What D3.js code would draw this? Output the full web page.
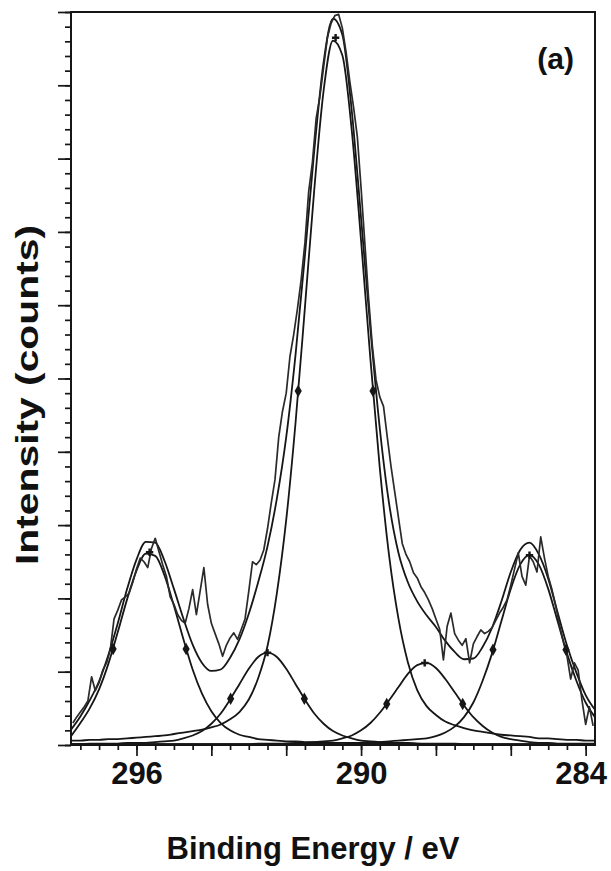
<!DOCTYPE html>
<html>
<head>
<meta charset="utf-8">
<script src="https://cdn.jsdelivr.net/npm/d3@7"></script>
<style>
  body { margin: 0; background: #fff; }
  svg { display: block; }
  text { font-family: "Liberation Sans", Arial, sans-serif; font-weight: bold; fill: #111; }
</style>
</head>
<body>
<div id="chart"></div>
<script>

// ---------------- data ----------------

// measured spectrum, 0.1 eV steps from 297.7 down to 283.8 eV
const rawStart = 297.7, rawStep = -0.1;
const rawCounts = [
  0.30, 0.38, 0.45, 0.52, 0.60, 0.93, 0.74, 0.85, 1.02, 1.12,
  1.30, 1.72, 1.84, 1.98, 2.02, 2.07, 2.22, 2.40, 2.55, 2.50,
  2.42, 2.68, 2.82, 2.64, 2.46, 2.30, 2.02, 1.92, 1.78, 1.70,
  1.66, 1.86, 2.12, 1.78, 2.10, 2.42, 1.92, 1.66, 1.52, 1.38,
  1.21, 1.36, 1.46, 1.53, 1.44, 1.58, 1.72, 2.10, 2.50, 2.46,
  2.52, 2.66, 2.95, 3.30, 3.62, 4.20, 4.55, 4.80, 5.30, 5.60,
  5.95, 6.35, 6.85, 7.55, 7.95, 8.55, 8.85, 9.25, 9.65, 9.85,
  9.95, 9.97, 9.78, 9.45, 9.05, 8.70, 8.30, 7.60, 6.85, 6.10,
  5.45, 4.98, 4.75, 4.62, 4.20, 3.80, 3.45, 3.10, 2.75, 2.60,
  2.50, 2.35, 2.28, 2.16, 2.08, 1.98, 1.86, 1.72, 1.58, 1.16,
  1.62, 1.80, 1.52, 1.43, 1.36, 1.45, 1.12, 1.38, 1.48, 1.57,
  1.52, 1.55, 1.60, 1.70, 1.80, 1.88, 1.98, 2.18, 2.40, 2.62,
  2.30, 2.18, 2.58, 2.50, 2.36, 2.84, 2.55, 2.30, 2.12, 1.90,
  1.64, 1.42, 1.22, 0.90, 1.12, 1.02, 0.62, 0.28, 0.52, 0.26
];

// fitted curves, 0.25 eV steps from 297.75 down to 283.75 eV
const fitStart = 297.75, fitStep = -0.25;
const peakA = [
  0.12, 0.30, 0.50, 0.76, 1.11, 1.54, 1.99, 2.38,
  2.61, 2.58, 2.31, 1.90, 1.45, 1.03, 0.70, 0.46,
  0.30, 0.20, 0.14, 0.11, 0.08, 0.07, 0.06, 0.05,
  0.05, 0.04, 0.04, 0.03, 0.03, 0.03, 0.02, 0.02,
  0.02, 0.02, 0.02, 0.02, 0.02, 0.02, 0.01, 0.01,
  0.01, 0.01, 0.01, 0.01, 0.01, 0.01, 0.01, 0.01,
  0.01, 0.01, 0.01, 0.01, 0.01, 0.01, 0.01, 0.01,
  0.01
];
const peakB = [
  0.01, 0.01, 0.02, 0.02, 0.02, 0.02, 0.03, 0.03,
  0.03, 0.04, 0.05, 0.06, 0.09, 0.13, 0.19, 0.29,
  0.43, 0.62, 0.83, 1.04, 1.20, 1.26, 1.20, 1.04,
  0.83, 0.62, 0.43, 0.29, 0.19, 0.13, 0.09, 0.06,
  0.05, 0.04, 0.03, 0.03, 0.03, 0.02, 0.02, 0.02,
  0.02, 0.02, 0.01, 0.01, 0.01, 0.01, 0.01, 0.01,
  0.01, 0.01, 0.01, 0.01, 0.01, 0.01, 0.01, 0.01,
  0.01
];
const peakMain = [
  0.06, 0.06, 0.07, 0.07, 0.08, 0.08, 0.09, 0.10,
  0.11, 0.12, 0.13, 0.15, 0.17, 0.19, 0.21, 0.24,
  0.28, 0.35, 0.45, 0.62, 0.91, 1.35, 2.07, 3.07,
  4.40, 5.97, 7.58, 8.93, 9.61, 9.41, 8.39, 6.88,
  5.26, 3.78, 2.58, 1.72, 1.13, 0.75, 0.53, 0.41,
  0.32, 0.27, 0.23, 0.20, 0.18, 0.16, 0.14, 0.13,
  0.12, 0.11, 0.09, 0.09, 0.08, 0.07, 0.07, 0.06,
  0.06
];
const peakD = [
  0.01, 0.01, 0.01, 0.01, 0.01, 0.01, 0.01, 0.01,
  0.01, 0.01, 0.01, 0.01, 0.01, 0.01, 0.01, 0.01,
  0.01, 0.01, 0.01, 0.01, 0.02, 0.02, 0.02, 0.02,
  0.03, 0.03, 0.04, 0.05, 0.06, 0.09, 0.13, 0.20,
  0.30, 0.44, 0.61, 0.79, 0.97, 1.09, 1.12, 1.05,
  0.90, 0.72, 0.54, 0.38, 0.26, 0.17, 0.11, 0.08,
  0.06, 0.04, 0.03, 0.03, 0.02, 0.02, 0.02, 0.02,
  0.02
];
const peakE = [
  0.01, 0.01, 0.01, 0.01, 0.01, 0.01, 0.01, 0.01,
  0.01, 0.01, 0.01, 0.01, 0.01, 0.01, 0.01, 0.01,
  0.01, 0.01, 0.01, 0.01, 0.01, 0.01, 0.01, 0.02,
  0.02, 0.02, 0.02, 0.02, 0.02, 0.03, 0.03, 0.03,
  0.04, 0.04, 0.05, 0.06, 0.07, 0.08, 0.09, 0.12,
  0.17, 0.25, 0.38, 0.58, 0.88, 1.25, 1.69, 2.13,
  2.46, 2.59, 2.46, 2.13, 1.69, 1.25, 0.88, 0.58,
  0.38
];
const envelope = [
  0.21, 0.39, 0.61, 0.87, 1.23, 1.66, 2.13, 2.53,
  2.77, 2.76, 2.51, 2.13, 1.73, 1.37, 1.12, 1.01,
  1.03, 1.19, 1.44, 1.79, 2.22, 2.71, 3.36, 4.20,
  5.33, 6.68, 8.11, 9.32, 9.91, 9.69, 8.66, 7.19,
  5.67, 4.32, 3.29, 2.62, 2.22, 1.96, 1.77, 1.61,
  1.42, 1.27, 1.17, 1.18, 1.34, 1.60, 1.96, 2.36,
  2.66, 2.76, 2.60, 2.27, 1.81, 1.36, 0.99, 0.68,
  0.48
];

// markers at the half-maximum points of each component
const halfMaxEnergy = [296.625, 294.675, 293.485, 291.515, 291.68, 289.68, 289.315, 287.285, 286.475, 284.525];
const halfMaxValue  = [1.31, 1.31, 0.63, 0.63, 4.83, 4.83, 0.56, 0.56, 1.30, 1.30];
// component maxima
const topEnergy = [295.65, 292.5, 290.68, 288.3, 285.5];
const topValue  = [2.63, 1.26, 9.65, 1.12, 2.59];

// axis ticks
const xLabelTicks = [296, 290, 284];
const xMajorTicks = [296, 294, 292, 290, 288, 286, 284];
const yMax = 10;

// ---------------- layout ----------------

const W = 611, H = 871;
const plot = {left: 71, right: 595, top: 12, bottom: 745};
const ink = "#161616";

const svg = d3.select("#chart").append("svg")
  .attr("width", W)
  .attr("height", H);

const x = d3.scaleLinear().domain([297.75, 283.75]).range([plot.left, plot.right]);
const y = d3.scaleLinear().domain([0, yMax]).range([plot.bottom, plot.top]);

// energy grids that go with the arrays
const rawPts = rawCounts.map((v, i) => ({e: rawStart + i * rawStep, v: v}));
const fitPts = arr => arr.map((v, i) => ({e: fitStart + i * fitStep, v: v}));

// ---------------- axes ----------------

//x axis minor / major ticks (pointing down)
svg.append("g")
  .attr("transform", `translate(0,${plot.bottom})`)
  .call(d3.axisBottom(x).tickValues(d3.range(284, 297.6, 0.5)).tickSize(5).tickFormat(""))
  .call(g => g.select(".domain").remove());
svg.append("g")
  .attr("transform", `translate(0,${plot.bottom})`)
  .call(d3.axisBottom(x).tickValues(xMajorTicks).tickSize(11).tickFormat(""))
  .call(g => g.select(".domain").remove());
svg.append("g")
  .attr("class", "xlabels")
  .attr("transform", `translate(0,${plot.bottom})`)
  .call(d3.axisBottom(x).tickValues(xLabelTicks).tickSize(0).tickPadding(17).tickFormat(d3.format("d")))
  .call(g => g.select(".domain").remove())
  .selectAll("text")
  .attr("font-size", 31)
  .attr("fill", ink)
  .attr("dx", d => d === 284 ? -5 : 0);

//y axis minor / major ticks (pointing left)
svg.append("g")
  .attr("transform", `translate(${plot.left},0)`)
  .call(d3.axisLeft(y).tickValues(d3.range(0, yMax + 0.01, 0.2)).tickSize(6).tickFormat(""))
  .call(g => g.select(".domain").remove());
svg.append("g")
  .attr("transform", `translate(${plot.left},0)`)
  .call(d3.axisLeft(y).tickValues(d3.range(0, yMax + 1, 1)).tickSize(13).tickFormat(""))
  .call(g => g.select(".domain").remove());

svg.selectAll(".tick line")
  .attr("stroke", ink)
  .attr("stroke-width", 1.7);

//frame
svg.append("rect")
  .attr("x", plot.left)
  .attr("y", plot.top)
  .attr("width", plot.right - plot.left)
  .attr("height", plot.bottom - plot.top)
  .attr("fill", "none")
  .attr("stroke", ink)
  .attr("stroke-width", 2);

// ---------------- curves ----------------

const smooth = d3.line()
  .x(d => x(d.e))
  .y(d => y(d.v))
  .curve(d3.curveMonotoneX);

const jagged = d3.line()
  .x(d => x(d.e))
  .y(d => y(d.v));

const curves = svg.append("g");

[peakA, peakB, peakMain, peakD, peakE].forEach(arr => {
  curves.append("path")
    .attr("d", smooth(fitPts(arr)))
    .attr("fill", "none")
    .attr("stroke", ink)
    .attr("stroke-width", 1.8);
});

curves.append("path")
  .attr("d", smooth(fitPts(envelope)))
  .attr("fill", "none")
  .attr("stroke", ink)
  .attr("stroke-width", 1.8);

curves.append("path")
  .attr("d", jagged(rawPts))
  .attr("fill", "none")
  .attr("stroke", "#2a2a2a")
  .attr("stroke-width", 1.7)
  .attr("stroke-linejoin", "round");

//diamond markers
const diamond = d3.symbol().type(d3.symbolDiamond);
curves.selectAll(".halfmax")
  .data(halfMaxEnergy.map((e, i) => ({e: e, v: halfMaxValue[i]})))
  .join("path")
  .attr("class", "halfmax")
  .attr("transform", d => `translate(${x(d.e)},${y(d.v)})`)
  .attr("d", diamond.size(45))
  .attr("fill", ink);

curves.selectAll(".top")
  .data(topEnergy.map((e, i) => ({e: e, v: topValue[i]})))
  .join("path")
  .attr("class", "top")
  .attr("transform", d => `translate(${x(d.e)},${y(d.v)})`)
  .attr("d", d3.symbol().type(d3.symbolCross).size(30))
  .attr("fill", ink);

// ---------------- text ----------------

svg.append("text")
  .attr("x", 574)
  .attr("y", 69)
  .attr("text-anchor", "end")
  .attr("font-size", 30)
  .text("(a)");

svg.append("text")
  .attr("transform", "translate(38,395) rotate(-90)")
  .attr("text-anchor", "middle")
  .attr("font-size", 32)
  .attr("textLength", 340)
  .attr("lengthAdjust", "spacingAndGlyphs")
  .text("Intensity (counts)");

svg.append("text")
  .attr("x", 313)
  .attr("y", 859)
  .attr("text-anchor", "middle")
  .attr("font-size", 31)
  .text("Binding Energy / eV");

</script>
</body>
</html>
